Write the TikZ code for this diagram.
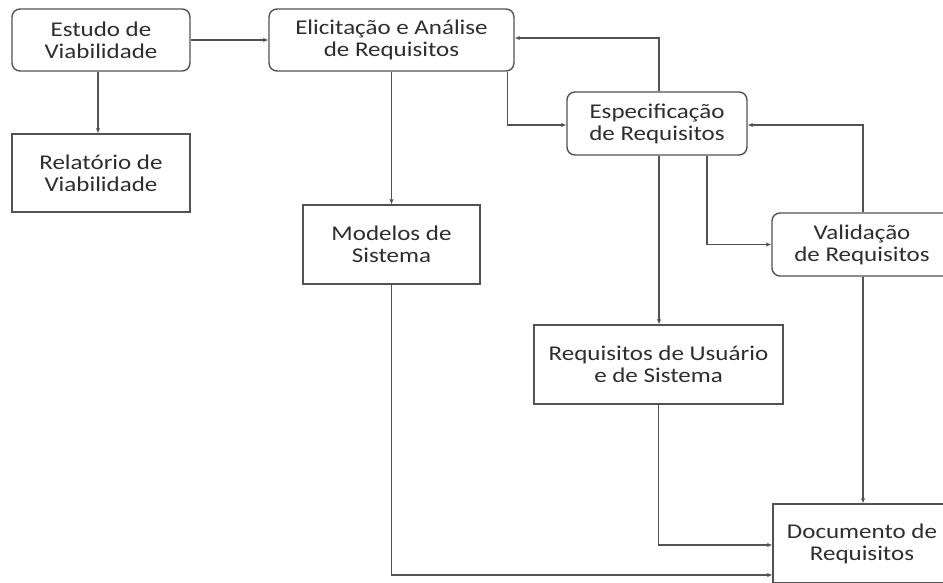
\documentclass[tikz,border=0pt]{standalone}
\usepackage{fontspec}
\setmainfont{Carlito}[FakeStretch=1.19]
\usetikzlibrary{arrows.meta,positioning,calc}
\begin{document}
\begin{tikzpicture}[x=1pt,y=-1pt,
  box/.style={draw=black!68, line width=1.4pt, fill=white, text=black!82, align=center,
    inner sep=0pt, font=\fontsize{21}{22}\selectfont},
  rbox/.style={box, rounded corners=8pt},
  arr/.style={draw=black!68, line width=1.4pt, -{Latex[length=5pt,width=4.5pt]}}]
\useasboundingbox (0,0) rectangle (943,583);
\node[rbox, minimum width=178pt, minimum height=62pt] (estudo) at (101,40) {Estudo de\\Viabilidade};
\node[rbox, minimum width=245pt, minimum height=62pt] (elic) at (391.5,40) {Elicitação e Análise\\de Requisitos};
\node[box, minimum width=178pt, minimum height=78pt] (rel) at (101,173) {Relatório de\\Viabilidade};
\node[box, minimum width=177pt, minimum height=79pt] (mod) at (391.5,244.5) {Modelos de\\Sistema};
\node[rbox, minimum width=180pt, minimum height=63pt] (esp) at (657,123.5) {Especificação\\de Requisitos};
\node[rbox, minimum width=180pt, minimum height=63pt] (val) at (862,244.5) {Validação\\de Requisitos};
\node[box, minimum width=249pt, minimum height=79pt] (req) at (658.5,364.5) {Requisitos de Usuário\\e de Sistema};
\node[box, minimum width=178pt, minimum height=79pt] (doc) at (862,543.5) {Documento de\\Requisitos};

\draw[arr] (estudo.east) -- (elic.west);
\draw[arr] ([xshift=-3pt]estudo.south) -- ([xshift=-3pt]rel.north);
\draw[arr] (elic.south) -- (mod.north);
\draw[arr] ([xshift=-7pt]elic.south east) |- ([yshift=-1.5pt]esp.west);
\draw[arr] ([xshift=2pt]esp.north) |- ([yshift=2pt]elic.east);
\draw[arr] ([xshift=2pt]esp.south) -- ([xshift=2pt]esp.south |- req.north);
\draw[arr] ([xshift=50pt]esp.south) |- (val.west);
\draw[arr] ([xshift=1pt]val.north) |- ([yshift=-1.5pt]esp.east);
\draw[arr] ([xshift=1pt]val.south) -- ([xshift=1pt]doc.north);
\draw[arr] (req.south) |- ([yshift=-1.5pt]doc.west);
\draw[arr] (mod.south) |- ([yshift=-31.5pt]doc.west);
\end{tikzpicture}
\end{document}
